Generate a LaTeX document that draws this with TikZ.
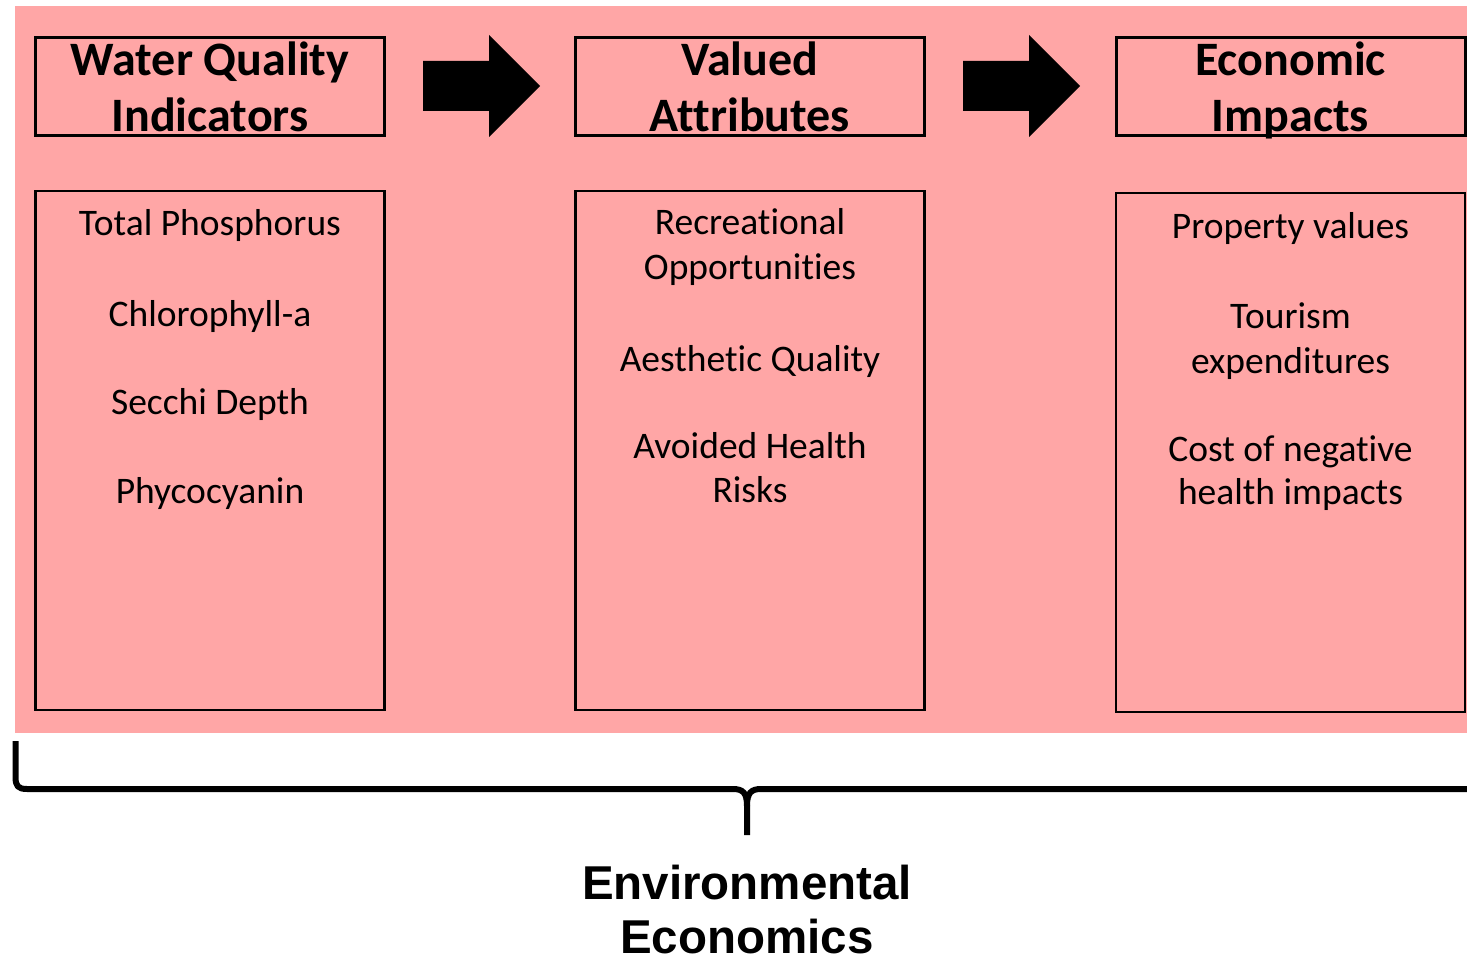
\documentclass[tikz,border=0pt]{standalone}
\usepackage{fontspec}
\setmainfont{Carlito}[Ligatures=CommonOff]
\newfontfamily\bracefont{Liberation Sans}
\usetikzlibrary{calc}
\definecolor{panelpink}{RGB}{255,166,166}

\begin{document}
\begin{tikzpicture}[x=1pt,y=-1pt,
  headbox/.style={draw=black, line width=3pt, minimum width=349pt, minimum height=98pt, inner sep=0pt},
  listbox/.style={draw=black, line width=2.5pt, minimum width=349pt, minimum height=519pt, inner sep=0pt},
  headtext/.style={font=\fontsize{48}{56}\selectfont\bfseries, anchor=base, inner sep=0pt},
  itemtext/.style={font=\fontsize{37.5}{45}\selectfont, anchor=base, inner sep=0pt},
  captext/.style={font=\bracefont\fontsize{47.5}{55}\selectfont\bfseries, anchor=base, inner sep=0pt, text depth=0pt},
  blockarrow/.style={fill=black},
  bracestroke/.style={line width=6pt, line join=round}
]
\useasboundingbox (0,0) rectangle (1467,960);

% pink panel behind the three columns
\fill[panelpink] (15,6) rectangle (1467,733);

% column headers
\node[headbox] (h1) at (210,87) {};
\node[headbox] (h2) at (750,87) {};
\node[headbox] (h3) at (1290.5,87) {};

\node[headtext] (h1a) at (210,76) {Water Quality};
\node[headtext] (h1b) at (210,132) {Indicators};
\node[headtext] (h2a) at (750,76) {Valued};
\node[headtext] (h2b) at (750,132) {Attributes};
\node[headtext] (h3a) at (1290.5,76) {Economic};
\node[headtext] (h3b) at (1290.5,132) {Impacts};

% block arrows between the headers
\foreach \from in {h1,h2}{
  \fill[blockarrow] ($(\from.east)+(37,-26)$) -- ++(66,0) -- ++(0,-26) -- ++(51,51)
    -- ++(-51,51) -- ++(0,-26) -- ++(-66,0) -- cycle;
}

% list boxes
\node[listbox] (b1) at (210,450.5) {};
\node[listbox] (b2) at (750,450.5) {};
\node[listbox] (b3) at (1290.5,452.5) {};

% first column
\node[itemtext] (tp) at (210,236) {Total Phosphorus};
\node[itemtext] (ch) at (210,326) {Chlorophyll-a};
\node[itemtext] (sd) at (210,414) {Secchi Depth};
\node[itemtext] (pc) at (210,503) {Phycocyanin};

% second column
\node[itemtext] (ro1) at (750,235) {Recreational};
\node[itemtext] (ro2) at (750,279) {Opportunities};
\node[itemtext] (aq)  at (750,371) {Aesthetic Quality};
\node[itemtext] (ah1) at (750,458) {Avoided Health};
\node[itemtext] (ah2) at (750,502) {Risks};

% third column
\node[itemtext] (pv)  at (1290.5,238) {Property values};
\node[itemtext] (te1) at (1290.5,328) {Tourism};
\node[itemtext] (te2) at (1290.5,373) {expenditures};
\node[itemtext] (cn1) at (1290.5,461) {Cost of negative};
\node[itemtext] (cn2) at (1290.5,504) {health impacts};

% brace gathering all three columns
\draw[bracestroke] (15.5,741) -- (15.5,777) .. controls (15.5,786) and (18,789) .. (27,789)
  -- (733,789) .. controls (743,789) and (747,793) .. (747,806) -- (747,835);
\draw[bracestroke] (747,806) .. controls (747,793) and (751,789) .. (761,789) -- (1467,789);

\node[captext] (ee1) at (747,899) {Environmental};
\node[captext] (ee2) at (747,953) {Economics};
\end{tikzpicture}
\end{document}
